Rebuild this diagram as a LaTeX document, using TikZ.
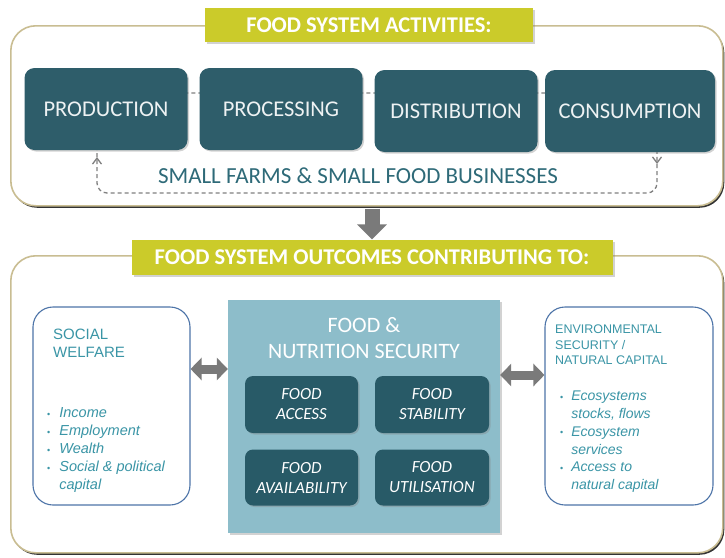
\documentclass[tikz,border=0pt]{standalone}
\usepackage{fontspec}
\setmainfont{Carlito}
\newfontfamily\arialf{Liberation Sans}
\usetikzlibrary{shadows,arrows.meta,calc}
\definecolor{tealbox}{HTML}{2E5D6A}
\definecolor{tealin}{HTML}{285A67}
\definecolor{olivebar}{HTML}{CBCB2A}
\definecolor{framec}{HTML}{C9BD92}
\definecolor{lightb}{HTML}{8DBDCA}
\definecolor{tealtxt}{HTML}{3A95A6}
\definecolor{tealdark}{HTML}{2E6A78}
\definecolor{bluebd}{HTML}{4D74A8}
\definecolor{arrowg}{HTML}{7A7A7A}
\definecolor{loopc}{HTML}{808080}
\newcommand{\bul}{\raisebox{0.5pt}{\small\textbullet}}
\tikzset{
  bigframe/.style={draw=framec, line width=1.6pt, fill=white, rounded corners=25pt,
    drop shadow={shadow xshift=1.5pt, shadow yshift=-2pt, fill=black, opacity=0.8}},
  titlebar/.style={fill=olivebar, text=white, font=\fontsize{22.5}{24}\selectfont\bfseries,
    drop shadow={shadow xshift=2pt, shadow yshift=-2pt, opacity=0.35}},
  actbox/.style={fill=tealbox, rounded corners=10pt, text=white!92!tealbox,
    font=\fontsize{22.5}{24}\selectfont,
    drop shadow={shadow xshift=1.5pt, shadow yshift=-1.5pt, opacity=0.35}},
  sidebox/.style={draw=bluebd, line width=1.1pt, fill=white, rounded corners=20pt},
  fnsbox/.style={fill=lightb, drop shadow={shadow xshift=2pt, shadow yshift=-2pt, opacity=0.35}},
  fnsin/.style={fill=tealin, rounded corners=8pt, text=white, align=center,
    font=\fontsize{17}{20}\selectfont\itshape,
    drop shadow={shadow xshift=1.5pt, shadow yshift=-1.5pt, opacity=0.35}},
  loopline/.style={draw=loopc, line width=1.3pt, rounded corners=10pt,
    dash pattern=on 4pt off 3pt},
  dblarrow/.style={draw=arrowg, line width=9pt,
    {Triangle[length=11pt,width=22pt]}-{Triangle[length=11pt,width=22pt]}},
}
\begin{document}
\begin{tikzpicture}[x=1pt,y=-1pt]
\useasboundingbox (0,0) rectangle (725,557);
% frames
\node[bigframe, minimum width=712pt, minimum height=180pt, anchor=north west] (topframe) at (10,25) {};
\node[bigframe, minimum width=712pt, minimum height=297pt, anchor=north west] (botframe) at (10,255) {};
% titles
\node[titlebar, minimum width=328pt, minimum height=34pt] (title1) at (369,25) {FOOD SYSTEM ACTIVITIES:};
% dashed loop
\coordinate (lt) at (97,93);
\coordinate (lb) at (97,193);
\coordinate (rt) at (657,93);
\coordinate (rb) at (657,193);
\coordinate (la) at (97,157);
\coordinate (ra) at (657,164);
\draw[loopline, -{Straight Barb[length=6pt,width=9pt]}] (la) -- (lt) -- (rt) -- (ra);
\draw[loopline, -{Straight Barb[length=6pt,width=9pt]}] (ra) -- (rb) -- (lb) -- (la);
% activity boxes
\node[actbox, minimum width=163pt, minimum height=82pt] (prod) at (106,109) {PRODUCTION};
\node[actbox, minimum width=163pt, minimum height=82pt] (proc) at (281,109) {PROCESSING};
\node[actbox, minimum width=163pt, minimum height=82pt] (dist) at (456,111) {DISTRIBUTION};
\node[actbox, minimum width=170pt, minimum height=82pt] (cons) at (630,111) {CONSUMPTION};
\node[text=tealdark, font=\fontsize{23}{24}\selectfont] (small) at (358,176) {SMALL FARMS \& SMALL FOOD BUSINESSES};
% down arrow
\node[titlebar, minimum width=481pt, minimum height=35pt] (title2) at (372,257) {FOOD SYSTEM OUTCOMES CONTRIBUTING TO:};
\draw[draw=arrowg, line width=15pt, -{Triangle[length=15pt,width=29pt]}] (topframe.south -| title2.north) ++(0,2) -- (title2.north);
% side boxes
\node[sidebox, minimum width=157pt, minimum height=198pt] (sw) at (111.5,406) {};
\node[sidebox, minimum width=168pt, minimum height=198pt] (env) at (629,406) {};
\node[anchor=north west, inner sep=0pt, align=left, text=tealtxt,
  font=\arialf\fontsize{15}{17.5}\selectfont] (swt) at (53,329) {SOCIAL\\WELFARE};
\node[anchor=north west, inner sep=0pt, text=tealtxt,
  font=\arialf\fontsize{14.5}{18}\selectfont] (swl) at (47,405) {%
  \begin{tabular}{@{}l@{\hspace{9pt}}l@{}}
  \bul & \textit{Income}\\
  \bul & \textit{Employment}\\
  \bul & \textit{Wealth}\\
  \bul & \textit{Social \& political}\\
   & \textit{capital}
  \end{tabular}};
\node[anchor=north west, inner sep=0pt, align=left, text=tealtxt,
  font=\arialf\fontsize{12.5}{15.5}\selectfont] (envt) at (555,325) {ENVIRONMENTAL\\SECURITY /\\NATURAL CAPITAL};
\node[anchor=north west, inner sep=0pt, text=tealtxt,
  font=\arialf\fontsize{14}{17.8}\selectfont] (envl) at (560,388) {%
  \begin{tabular}{@{}l@{\hspace{8pt}}l@{}}
  \bul & \textit{Ecosystems}\\
   & \textit{stocks, flows}\\
  \bul & \textit{Ecosystem}\\
   & \textit{services}\\
  \bul & \textit{Access to}\\
   & \textit{natural capital}
  \end{tabular}};
% centre box
\node[fnsbox, minimum width=272pt, minimum height=233pt] (fns) at (364,416.5) {};
\node[text=white, align=center, font=\fontsize{22}{26}\selectfont] (fnst) at (364,338) {FOOD \&\\NUTRITION SECURITY};
\node[fnsin, minimum width=113pt, minimum height=57pt] (access) at (301.5,404.5) {FOOD\\ACCESS};
\node[fnsin, minimum width=114pt, minimum height=57pt] (stab) at (432,404.5) {FOOD\\STABILITY};
\node[fnsin, minimum width=113pt, minimum height=56pt] (avail) at (301.5,477.5) {FOOD\\AVAILABILITY};
\node[fnsin, minimum width=114pt, minimum height=56pt] (util) at (432,477.5) {FOOD\\UTILISATION};
% double arrows
\coordinate (lay) at (0,369);
\coordinate (ray) at (0,375);
\draw[dblarrow] (sw.east |- lay) -- (fns.west |- lay);
\draw[dblarrow] (fns.east |- ray) -- (env.west |- ray);
\end{tikzpicture}
\end{document}
